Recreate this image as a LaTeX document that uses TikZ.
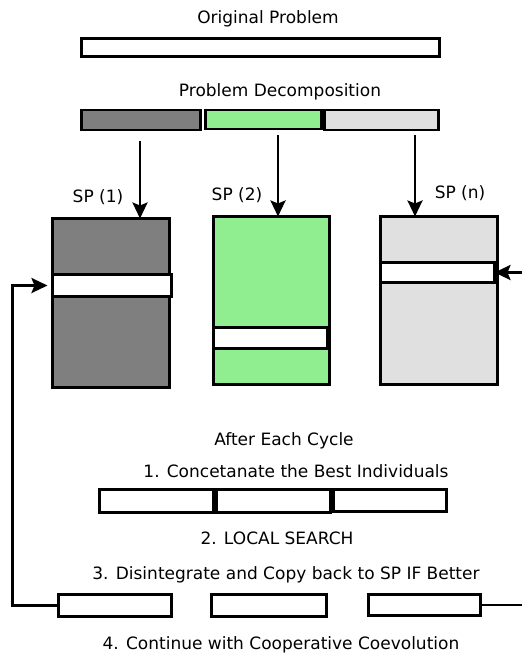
\documentclass[tikz,border=0pt]{standalone}
\usepackage{fontspec}
\setmainfont{DejaVu Sans}
\usetikzlibrary{arrows.meta}
\definecolor{spdark}{HTML}{7F7F7F}
\definecolor{spgreen}{HTML}{90EE90}
\definecolor{splight}{HTML}{E0E0E0}
\begin{document}
\begin{tikzpicture}[x=1pt,y=-1pt,
		blk/.style n args={2}{draw, line width=2.8pt, outer sep=0pt, inner sep=0pt, anchor=north west, minimum width=#1pt, minimum height=#2pt},
		lbl/.style={anchor=base, inner sep=0pt, font=\fontsize{17}{20}\selectfont},
		flow/.style={-{Stealth[length=16pt,width=15pt,inset=3pt]}, line width=2.6pt}]
	\useasboundingbox (0,0) rectangle (522,656);

	\node[lbl] (torig) at (268,23) {Original Problem};
	\node[blk={358}{18}, fill=white] (orig) at (81.5,38.5) {};

	\node[lbl] (tdec) at (280,96) {Problem Decomposition};
	\node[blk={119}{20}, fill=spdark] (dec1) at (81.5,110) {};
	\node[blk={116}{19}, fill=spgreen] (dec2) at (205.5,110) {};
	\node[blk={114}{20}, fill=splight] (dec3) at (324.5,110) {};

	% sub-populations
	\node[blk={117}{169}, fill=spdark] (sp1) at (52.5,218.5) {};
	\node[blk={116}{168}, fill=spgreen] (sp2) at (213.5,216.5) {};
	\node[blk={117}{168}, fill=splight] (sp3) at (380.5,216.5) {};
	\node[blk={119}{22}, fill=white] (ind1) at (52.5,274.5) {};
	\node[blk={114}{21}, fill=white] (ind2) at (213.5,327.5) {};
	\node[blk={114}{20}, fill=white] (ind3) at (380.5,262.5) {};

	\node[lbl] (tsp1) at (98,202) {SP (1)};
	\node[lbl] (tsp2) at (237,200) {SP (2)};
	\node[lbl] (tsp3) at (460,198) {SP (n)};

	\coordinate (a1) at (140,141);
	\coordinate (a2) at (278,135);
	\coordinate (a3) at (415,135);
	\draw[flow] (a1) -- (a1 |- sp1.north);
	\draw[flow] (a2) -- (a2 |- sp2.north);
	\draw[flow] (a3) -- (a3 |- sp3.north);

	% after each cycle
	\node[lbl] (tcyc) at (284,445) {After Each Cycle};
	\node[lbl] (tcat) at (296,477) {1. Concetanate the Best Individuals};
	\node[blk={114}{23}] (cat1) at (99.5,489.5) {};
	\node[blk={114}{23}] (cat2) at (216.5,489.5) {};
	\node[blk={113}{22}] (cat3) at (333.5,489.5) {};
	\node[lbl] (tls) at (277,544) {2. LOCAL SEARCH};
	\node[lbl] (tcopy) at (286,579) {3. Disintegrate and Copy back to SP IF Better};
	\node[blk={113}{22}] (back1) at (58.5,594.5) {};
	\node[blk={115}{22}] (back2) at (211.5,594.5) {};
	\node[blk={112}{21}] (back3) at (368.5,594.5) {};
	\node[lbl] (tcont) at (281,649) {4. Continue with Cooperative Coevolution};

	\draw[flow, shorten >=5pt] (back1.west) -- ++(-46,0) |- (ind1.west);
	\draw[flow] (back3.east) -- ++(43,0) |- (ind3.east);
\end{tikzpicture}
\end{document}
